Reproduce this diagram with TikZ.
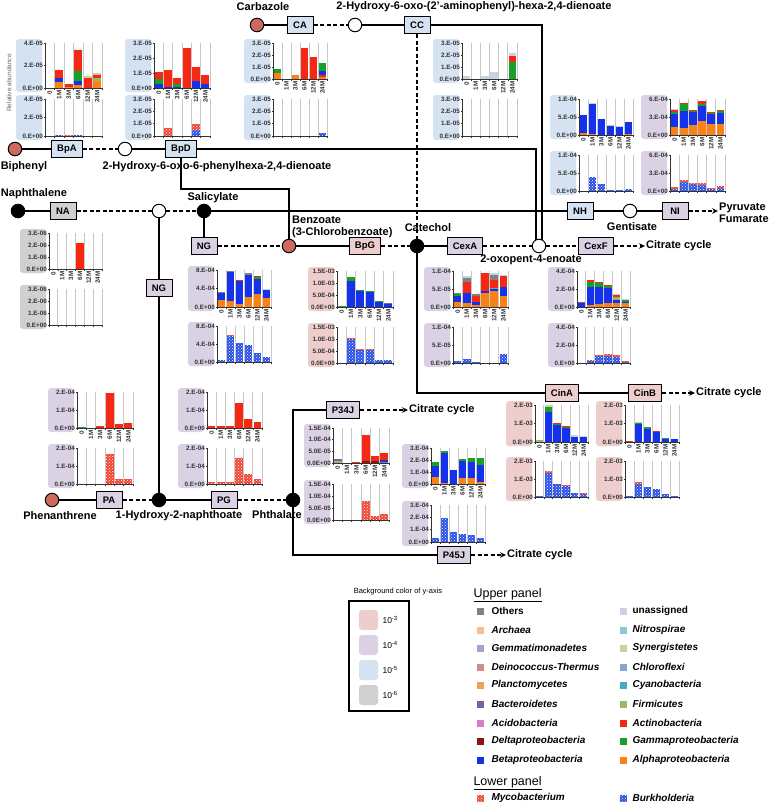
\documentclass[tikz,border=0pt]{standalone}
\usepackage{fontspec}
\setmainfont{Liberation Sans}
\usetikzlibrary{arrows.meta,patterns,backgrounds}
% y-axis background colours
\definecolor{bgpink}{RGB}{238,205,205}
\definecolor{bgpurp}{RGB}{218,210,228}
\definecolor{bgblue}{RGB}{212,226,242}
\definecolor{bggray}{RGB}{208,208,208}
\definecolor{cpdred}{RGB}{205,105,95}
% taxa
\definecolor{oth}{RGB}{128,128,128}
\definecolor{una}{RGB}{200,210,228}
\definecolor{arc}{RGB}{248,190,140}
\definecolor{nit}{RGB}{140,200,212}
\definecolor{gem}{RGB}{172,158,200}
\definecolor{syn}{RGB}{192,215,160}
\definecolor{dei}{RGB}{210,140,140}
\definecolor{chl}{RGB}{140,165,205}
\definecolor{pla}{RGB}{240,160,90}
\definecolor{cya}{RGB}{70,170,195}
\definecolor{bac}{RGB}{125,95,165}
\definecolor{fir}{RGB}{150,185,100}
\definecolor{aci}{RGB}{222,122,192}
\definecolor{act}{RGB}{245,40,20}
\definecolor{del}{RGB}{140,20,20}
\definecolor{gam}{RGB}{25,160,40}
\definecolor{bet}{RGB}{20,50,235}
\definecolor{alp}{RGB}{250,130,20}
\definecolor{mycc}{RGB}{240,70,50}
\definecolor{burc}{RGB}{40,80,230}

% chart settings: bg colour, x0, width, max, intervals, tick labels
\newcommand{\setchart}[6]{\def\cbg{#1}\def\cx{#2}\def\cw{#3}\def\cmax{#4}\def\cn{#5}\def\clabs{#6}}
% one panel: top, height, stacked bars
\newcommand{\panel}[3]{%
  \fill[\cbg,rounded corners=3pt] ({\cx-29},{#1-4}) rectangle ({\cx-3},{#1+#2+4});
  \foreach \k in {1,...,6} \draw[gridln] ({\cx+\k*\cw/6},#1) -- ({\cx+\k*\cw/6},{#1+#2});
  \foreach \segs [count=\i] in {#3} {
    \gdef\prev{0}
    \foreach \sc/\sv in \segs {
      \fill[\sc] ({\cx+(\i-1)*\cw/6+0.8},{#1+#2-\prev/\cmax*#2}) rectangle ({\cx+\i*\cw/6-0.8},{#1+#2-\sv/\cmax*#2});
      \global\let\prev\sv
    }
  }
  \draw[axisln] (\cx,#1) -- (\cx,{#1+#2}) -- ({\cx+\cw},{#1+#2});
  \foreach \k in {0,...,6} \draw[axisln] ({\cx+\k*\cw/6},{#1+#2}) -- ({\cx+\k*\cw/6},{#1+#2+1.5});
  \foreach \ylb [count=\j from 0] in \clabs {
    \draw[axisln] (\cx,{#1+\j*#2/\cn}) -- ({\cx-1.5},{#1+\j*#2/\cn});
    \node[ylab] (yl\j) at ({\cx-1.5},{#1+\j*#2/\cn}) {\ylb};
  }
}
\newcommand{\months}[1]{%
  \foreach \m [count=\i] in {0,1M,3M,6M,12M,24M}
    \node[xlab] (xl\i) at ({\cx+(\i-0.5)*\cw/6},#1) {\m};
}

\begin{document}
\begin{tikzpicture}[x=1pt,y=-1pt,
    enz/.style={draw,line width=1pt,minimum width=26pt,minimum height=17pt,inner xsep=5.5pt,font=\fontsize{9.5}{10}\selectfont\bfseries},
    cpd/.style={circle,draw,line width=1pt,minimum size=13.5pt,inner sep=0pt},
    lbl/.style={font=\fontsize{11}{12.5}\selectfont\bfseries,inner sep=1pt},
    ln/.style={line width=1.3pt},
    dln/.style={line width=1.3pt,dash pattern=on 4pt off 2.5pt},
    arr/.style={-{Stealth[length=6pt,width=5.5pt]}},
    gridln/.style={black!22,line width=0.7pt},
    axisln/.style={black!80,line width=0.5pt},
    ylab/.style={anchor=east,inner sep=0.5pt,text=black!80,font=\fontsize{6.3}{7}\selectfont\bfseries},
    xlab/.style={anchor=east,rotate=90,inner sep=0.4pt,fill=white,text=black!80,font=\fontsize{6.3}{7}\selectfont\bfseries},
    myc/.style={fill=mycc,postaction={pattern=crosshatch dots,pattern color=white}},
    bur/.style={fill=burc,postaction={pattern=crosshatch dots,pattern color=white}},
]
\useasboundingbox (0,0) rectangle (772,806);

% ---- charts ----
% BpA
\setchart{bgblue}{45}{57}{4}{2}{4.E-05,2.E-05,0.E+00}
\panel{43}{45}{{white/0},{alp/0.5,bet/0.9,act/1.6},{alp/0.1,act/0.4},{alp/0.3,bet/0.6,gam/1.5,act/3.4},{act/0.9,syn/1.1},{alp/0.6,fir/0.9,act/1.15,syn/1.3}}
\panel{99}{37}{{white/0},{bur/0.12},{myc/0.12},{bur/0.12},{white/0},{white/0}}
\months{90}
% BpD
\setchart{bgblue}{154}{56}{3}{3}{3.E-05,2.E-05,1.E-05,0.E+00}
\panel{43}{45}{{bet/0.3,gam/0.6,act/1.1},{bet/0.05,act/1.2},{bet/0.1,gam/0.3,act/0.65},{act/2.7},{bet/0.5,act/1.4},{bet/0.3,act/0.85}}
\panel{99}{37}{{white/0},{myc/0.65},{white/0},{white/0},{bur/0.45,myc/1.0},{white/0}}
\months{90}
% CA
\setchart{bgblue}{273}{54}{3}{3}{3.E-05,2.E-05,1.E-05,0.E+00}
\panel{43}{36}{{alp/0.5,gam/0.8},{white/0},{alp/0.3},{act/2.6},{act/1.8},{alp/0.2,act/0.35,bet/0.65,gam/1.3}}
\panel{99}{37}{{white/0},{white/0},{white/0},{white/0},{white/0},{bur/0.25}}
\months{81}
% CC
\setchart{bgblue}{462}{55}{3}{3}{3.E-05,2.E-05,1.E-05,0.E+00}
\panel{43}{36}{{una/0.25},{white/0},{una/0.25},{una/0.6},{white/0},{gam/1.4,act/1.9,una/2.2}}
\panel{99}{37}{{white/0},{white/0},{white/0},{white/0},{white/0},{white/0}}
\months{81}
% NH
\setchart{bgblue}{579}{54}{10}{2}{1.E-04,5.E-05,0.E+00}
\panel{99}{36}{{alp/0.5,bet/5.5},{alp/0.3,bet/8.6,una/8.9},{bet/4.5},{bet/2.5,syn/2.8},{bet/2.2,una/2.5},{alp/0.4,bet/3.5}}
\panel{155}{36}{{white/0},{bur/3.8},{bur/2.0},{bur/0.3},{bur/0.3},{bur/0.6}}
\months{137}
% NI
\setchart{bgpurp}{670}{55}{6}{2}{6.E-04,3.E-04,0.E+00}
\panel{99}{36}{{alp/1.4,bet/3.5,gam/3.8,act/4.2,una/4.3},{alp/1.1,bet/4.0,gam/5.2,act/5.4},{alp/1.7,bet/3.8,gam/4.0,act/4.1},{alp/2.3,bet/4.8,gam/5.2,act/5.6},{alp/1.8,bet/3.5,gam/3.7,act/3.9},{alp/1.9,bet/3.6,gam/4.0,act/4.1}}
\panel{155}{36}{{bur/0.4,myc/0.6},{bur/1.5,myc/1.8},{bur/1.1,myc/1.3},{bur/1.0,myc/1.3},{bur/0.3,myc/0.5},{bur/0.5,myc/0.8}}
\months{137}
% NA
\setchart{bggray}{49}{53}{3}{3}{3.E-06,2.E-06,1.E-06,0.E+00}
\panel{233}{36}{{white/0},{white/0},{white/0},{act/2.2},{white/0},{white/0}}
\panel{289}{36}{{white/0},{white/0},{white/0},{white/0},{white/0},{white/0}}
\months{271}
% NG
\setchart{bgpurp}{217}{54}{8}{2}{8.E-04,4.E-04,0.E+00}
\panel{270}{37}{{alp/1.5,bet/3.0,oth/3.3},{alp/1.2,bet/7.5,oth/7.8},{alp/0.6,bet/5.7,act/5.8},{alp/2.2,bet/7.0,oth/7.3},{alp/2.8,bet/6.0,gam/6.5,act/6.7},{alp/2.0,bet/3.7,una/3.9}}
\panel{326}{36}{{bur/0.5},{bur/5.7,myc/6.0},{bur/4.3},{bur/3.7},{bur/1.9},{bur/1.2}}
\months{309}
% BpG
\setchart{bgpink}{337}{56}{15}{3}{1.5E-03,1.0E-03,5.0E-04,0.0E+00}
\panel{271}{36}{{gam/0.3},{bet/11,gam/12.7},{bet/6.5,gam/7.0},{bet/6.4,gam/6.8},{bet/2.0,gam/2.5},{bet/1.5,bac/1.8}}
\panel{327}{36}{{bur/0.1},{bur/9.8,myc/10.3},{bur/5.5,myc/5.9},{bur/5.4,myc/5.9},{bur/1.3},{bur/1.1}}
\months{309}
% CexA
\setchart{bgpurp}{453}{55}{10}{2}{1.E-04,5.E-05,0.E+00}
\panel{271}{36}{{alp/1.5,bet/3.0,gam/3.5,oth/4.0},{alp/1.0,bet/4.0,act/7.0,oth/8.0,una/8.5},{alp/0.5,bet/1.5,act/3.0,oth/3.6},{alp/4.0,bet/4.5,act/9.5},{alp/4.5,bet/5.0,cya/5.2,act/7.5,oth/9.0,una/9.5},{alp/3.0,bet/5.5,act/8.5,una/9.0}}
\panel{327}{36}{{bur/0.5},{bur/1.2},{bur/0.4},{white/0},{white/0},{bur/2.5}}
\months{309}
% CexF
\setchart{bgpurp}{577}{53}{4}{2}{4.E-04,2.E-04,0.E+00}
\panel{271}{36}{{bet/0.4,bac/0.6},{alp/0.2,bet/2.2,gam/2.8,act/2.95},{alp/0.3,bet/2.2,gam/2.7,act/2.8},{alp/0.4,bet/2.1,gam/2.3,act/2.4},{alp/0.4,bet/0.8,fir/1.1,act/1.3,una/1.4},{alp/0.4,bet/0.6,gam/0.8,una/0.9}}
\panel{327}{36}{{bur/0.05},{bur/0.25,myc/0.35},{bur/0.75,myc/0.9},{bur/0.8,myc/0.95},{bur/0.7,myc/0.85},{bur/0.15,myc/0.25}}
\months{309}
% PA
\setchart{bgpurp}{77}{56}{2}{2}{2.E-04,1.E-04,0.E+00}
\panel{392}{36}{{gam/0.03},{white/0},{act/0.1},{act/1.95},{act/0.25},{act/0.3}}
\panel{448}{36}{{white/0},{white/0},{white/0},{myc/1.65},{myc/0.3},{myc/0.3}}
\months{430}
% PG
\setchart{bgpurp}{207}{55}{2}{2}{2.E-04,1.E-04,0.E+00}
\panel{392}{36}{{act/0.12},{act/0.1},{act/0.1},{act/1.4},{act/0.5},{act/0.35}}
\panel{448}{36}{{myc/0.12},{myc/0.1},{myc/0.1},{myc/1.45},{myc/0.55},{myc/0.3}}
\months{430}
% P34J
\setchart{bgpurp}{333}{56}{15}{3}{1.5E-04,1.0E-04,5.0E-05,0.0E+00}
\panel{428}{35}{{fir/1.0,bac/1.8},{white/0},{act/0.3},{del/0.8,act/12.2},{del/0.8,act/3.0},{oth/0.5,bet/1.2,act/4.2}}
\panel{484}{36}{{myc/0.2},{white/0},{myc/0.2},{myc/8.0},{myc/1.5},{myc/2.6}}
\months{465}
% P45J
\setchart{bgpurp}{431}{54}{3}{3}{3.E-04,2.E-04,1.E-04,0.E+00}
\panel{448}{36}{{alp/0.55,bet/1.5,gam/1.8},{alp/0.1,bet/2.6,gam/2.75},{bet/1.15},{alp/0.5,bet/1.9,gam/2.1},{alp/0.5,bet/1.8,gam/2.2},{alp/0.2,bet/1.6,gam/2.2}}
\panel{505}{37}{{bur/0.3},{bur/1.95},{bur/0.8},{bur/0.65},{bur/0.6},{bur/0.3}}
\months{486}
% CinA
\setchart{bgpink}{535}{53}{2}{2}{2.E-03,1.E-03,0.E+00}
\panel{405}{37}{{fir/0.12},{bet/1.6,gam/1.9,syn/2.0},{bet/0.9,gam/1.0,act/1.05},{bet/0.75,gam/0.8,act/0.85},{bet/0.25,una/0.4},{bet/0.25,una/0.3}}
\panel{461}{36}{{bur/0.03},{bur/1.35,myc/1.45},{bur/0.75},{bur/0.6,myc/0.65},{bur/0.2},{bur/0.15,myc/0.25}}
\months{444}
% CinB
\setchart{bgpink}{625}{54}{2}{2}{2.E-03,1.E-03,0.E+00}
\panel{405}{37}{{act/0.05},{bet/0.95,gam/1.05,syn/1.1},{bet/0.7,gam/0.8},{bet/0.55,act/0.6},{bet/0.2,gam/0.22},{bet/0.15}}
\panel{461}{36}{{bur/0.05},{bur/0.75,myc/0.85},{bur/0.55},{bur/0.45},{bur/0.15},{bur/0.05}}
\months{444}

\node[rotate=90,text=black!60,font=\fontsize{6.5}{8}\selectfont] (relab) at (9,83) {Relative abundance};

% ---- pathway ----
\node[cpd,fill=cpdred] (carb) at (257,25) {};
\node[enz,fill=bgblue] (CA) at (300,25) {CA};
\node[cpd,fill=white] (hoap) at (355,25) {};
\node[enz,fill=bgblue] (CC) at (417,25) {CC};

\node[cpd,fill=cpdred] (biph) at (15,149) {};
\node[enz,fill=bgblue] (BpA) at (67,149) {BpA};
\node[cpd,fill=white] (hopd) at (125,149) {};
\node[enz,fill=bgblue] (BpD) at (181,149) {BpD};

\node[cpd,fill=black] (naph) at (18,211) {};
\node[enz,fill=bggray] (NA) at (63,211) {NA};
\node[cpd,fill=white] (naphi) at (159,211) {};
\node[cpd,fill=black] (sal) at (204,211) {};
\node[enz,fill=bgblue] (NH) at (580,211) {NH};
\node[cpd,fill=white] (gent) at (630,211) {};
\node[enz,fill=bgpurp] (NI) at (675,211) {NI};

\node[enz,fill=bgpurp] (NGa) at (204,246) {NG};
\node[cpd,fill=cpdred] (benz) at (289,246) {};
\node[enz,fill=bgpink] (BpG) at (365,246) {BpG};
\node[cpd,fill=black] (cat) at (417,246) {};
\node[enz,fill=bgpurp] (CexA) at (465,246) {CexA};
\node[cpd,fill=white] (oxo) at (539,246) {};
\node[enz,fill=bgpurp] (CexF) at (596,246) {CexF};

\node[enz,fill=bgpurp] (NGb) at (159,288) {NG};
\node[enz,fill=bgpink] (CinA) at (562,393) {CinA};
\node[enz,fill=bgpink] (CinB) at (645,393) {CinB};

\node[cpd,fill=cpdred] (phen) at (52,500) {};
\node[enz,fill=bgpurp] (PA) at (109,500) {PA};
\node[cpd,fill=black] (hna) at (159,500) {};
\node[enz,fill=bgpurp] (PG) at (224,500) {PG};
\node[cpd,fill=black] (phth) at (293,500) {};
\node[enz,fill=bgpurp] (P34J) at (343,410) {P34J};
\node[enz,fill=bgpurp] (P45J) at (454,555) {P45J};

% compound names
\node[lbl] (lcarb) at (263,7) {Carbazole};
\node[lbl] (lhoap) at (474,7) {2-Hydroxy-6-oxo-(2'-aminophenyl)-hexa-2,4-dienoate};
\node[lbl] (lbiph) at (24,167) {Biphenyl};
\node[lbl] (lhopd) at (217,167) {2-Hydroxy-6-oxo-6-phenylhexa-2,4-dienoate};
\node[lbl] (lnaph) at (34,194) {Naphthalene};
\node[lbl] (lsal) at (213,198) {Salicylate};
\node[lbl,align=left,anchor=west] (lbenz) at (291,227) {Benzoate\\(3-Chlorobenzoate)};
\node[lbl] (lcat) at (428,228) {Catechol};
\node[lbl] (loxo) at (531,260) {2-oxopent-4-enoate};
\node[lbl] (lgent) at (632,227) {Gentisate};
\node[lbl,align=left,anchor=west] (lpyr) at (718,213) {Pyruvate\\Fumarate};
\node[lbl,anchor=west] (cit1) at (645,246) {Citrate cycle};
\node[lbl,anchor=west] (cit2) at (695,393) {Citrate cycle};
\node[lbl,anchor=west] (cit3) at (408,410) {Citrate cycle};
\node[lbl,anchor=west] (cit4) at (506,555) {Citrate cycle};
\node[lbl] (lphen) at (60,516) {Phenanthrene};
\node[lbl] (lhna) at (179,516) {1-Hydroxy-2-naphthoate};
\node[lbl] (lphth) at (277,515) {Phthalate};

\coordinate (ccR) at (542,25);
\coordinate (ccD) at (542,246);
\coordinate (bdR) at (536,149);
\coordinate (bdD) at (536,246);
\coordinate (bdA) at (181,189);
\coordinate (bdB) at (289,189);
\coordinate (catD) at (417,393);
\coordinate (phU) at (293,410);
\coordinate (phD) at (293,555);

\begin{pgfonlayer}{background}
\draw[ln] (carb) -- (CA);
\draw[dln] (CA) -- (hoap);
\draw[ln] (hoap) -- (CC);
\draw[ln] (CC) -- (ccR) -- (ccD);
\draw[dln] (CC) -- (cat);
\draw[ln] (biph) -- (BpA);
\draw[dln] (BpA) -- (hopd);
\draw[ln] (hopd) -- (BpD);
\draw[ln] (BpD) -- (bdR) -- (bdD);
\draw[ln] (BpD) -- (bdA) -- (bdB) -- (benz);
\draw[ln] (naph) -- (NA);
\draw[dln] (NA) -- (naphi);
\draw[dln] (naphi) -- (sal);
\draw[ln] (sal) -- (NH);
\draw[ln] (NH) -- (gent);
\draw[ln] (gent) -- (NI);
\draw[dln,arr] (NI) -- (NI -| lpyr.west);
\draw[ln] (sal) -- (NGa);
\draw[dln] (NGa) -- (benz);
\draw[ln] (benz) -- (BpG);
\draw[dln] (BpG) -- (cat);
\draw[ln] (cat) -- (CexA);
\draw[dln] (CexA) -- (oxo);
\draw[dln] (oxo) -- (CexF);
\draw[dln,arr] (CexF) -- (cit1);
\draw[ln] (cat) -- (catD) -- (CinA);
\draw[ln] (CinA) -- (CinB);
\draw[dln,arr] (CinB) -- (cit2);
\draw[ln] (naphi) -- (NGb);
\draw[ln] (NGb) -- (hna);
\draw[ln] (phen) -- (PA);
\draw[dln] (PA) -- (hna);
\draw[ln] (hna) -- (PG);
\draw[dln] (PG) -- (phth);
\draw[ln] (phth) -- (phU) -- (P34J);
\draw[dln,arr] (P34J) -- (cit3);
\draw[ln] (phth) -- (phD) -- (P45J);
\draw[dln,arr] (P45J) -- (cit4);
\end{pgfonlayer}

% ---- legend ----
\node[font=\fontsize{7.5}{9}\selectfont] (bgtitle) at (398,592) {Background color of y-axis};
\draw[line width=1.2pt] (349,601) rectangle (409,711);
\foreach \col/\ex [count=\i] in {bgpink/3,bgpurp/4,bgblue/5,bggray/6} {
  \fill[\col,rounded corners=3pt] (359,{585+25*\i}) rectangle (378,{605+25*\i});
  \node[anchor=west,font=\fontsize{8.5}{10}\selectfont] (bgl\i) at (379,{595+25*\i}) {10\textsuperscript{-\ex}};
}
\node[anchor=west,font=\fontsize{12.5}{14}\selectfont] (upp) at (470,595) {\underline{Upper panel}};
\fill[oth] (477,608) rectangle (484,615);
\node[anchor=west,font=\fontsize{10}{12}\selectfont\bfseries] (lgOth) at (488,611) {Others};
\fill[una] (620,608) rectangle (627,615);
\node[anchor=west,font=\fontsize{10}{12}\selectfont\bfseries] (lgUna) at (629,611) {unassigned};
\foreach \col/\nm [count=\i] in {arc/Archaea,gem/Gemmatimonadetes,dei/Deinococcus-Thermus,pla/Planctomycetes,bac/Bacteroidetes,aci/Acidobacteria,del/Deltaproteobacteria,bet/Betaproteobacteria} {
  \fill[\col] (477,{608+18.6*\i}) rectangle (484,{615+18.6*\i});
  \node[anchor=west,font=\fontsize{10}{12}\selectfont\bfseries\itshape] (lgL\i) at (488,{611+18.6*\i}) {\nm};
}
\foreach \col/\nm [count=\i] in {nit/Nitrospirae,syn/Synergistetes,chl/Chloroflexi,cya/Cyanobacteria,fir/Firmicutes,act/Actinobacteria,gam/Gammaproteobacteria,alp/Alphaproteobacteria} {
  \fill[\col] (620,{608+18.6*\i}) rectangle (627,{615+18.6*\i});
  \node[anchor=west,font=\fontsize{10}{12}\selectfont\bfseries\itshape] (lgR\i) at (629,{611+18.6*\i}) {\nm};
}
\node[anchor=west,font=\fontsize{12.5}{14}\selectfont] (low) at (470,783) {\underline{Lower panel}};
\fill[myc] (477,795) rectangle (484,802);
\node[anchor=west,font=\fontsize{10}{12}\selectfont\bfseries\itshape] (lgMyc) at (488,798) {Mycobacterium};
\fill[bur] (620,795) rectangle (627,802);
\node[anchor=west,font=\fontsize{10}{12}\selectfont\bfseries\itshape] (lgBur) at (629,798) {Burkholderia};
\end{tikzpicture}
\end{document}
